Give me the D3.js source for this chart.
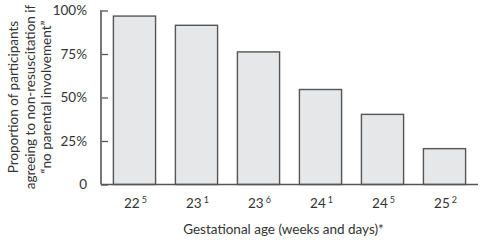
<!DOCTYPE html>
<html>
<head>
<meta charset="utf-8">
<script src="https://cdn.jsdelivr.net/npm/d3@7"></script>
<style>
  body { margin: 0; background: #fff; }
  text { font-family: Lato, "Open Sans", sans-serif; fill: #333; }
</style>
</head>
<body>
<svg id="chart"></svg>
<script>
const weeks = ['22', '23', '23', '24', '24', '25'];
const days = ['5', '1', '6', '1', '5', '2'];
const values = [96.8, 91.5, 76.2, 54.6, 40.3, 20.6];
const yTicks = [0, 25, 50, 75, 100];

const width = 480;
const height = 240;
const margin = { top: 10.5, right: 2, bottom: 55.5, left: 101 };

const svg = d3.select('#chart')
  .attr('width', width)
  .attr('height', height);

const x = d3.scaleBand()
  .domain(d3.range(values.length))
  .range([margin.left, width - margin.right])
  .paddingInner(0.32)
  .paddingOuter(0.2);

const y = d3.scaleLinear()
  .domain([0, 100])
  .range([height - margin.bottom, margin.top]);

// bars
svg.selectAll('rect.bar')
  .data(values)
  .enter()
  .append('rect')
  .attr('class', 'bar')
  .attr('x', (d, i) => x(i))
  .attr('y', (d) => y(d))
  .attr('width', x.bandwidth())
  .attr('height', (d) => y(0) - y(d))
  .attr('fill', '#e6e7e8')
  .attr('stroke', '#555')
  .style('stroke-width', '1.4px');

// y axis
const yAxis = svg.append('g')
  .attr('transform', `translate(${margin.left},0)`)
  .call(d3.axisRight(y)
    .tickValues(yTicks)
    .tickSize(7)
    .tickFormat((d) => (d === 0 ? '0' : d + '%')));

yAxis.select('.domain').remove();
yAxis.append('line')
  .attr('x1', 0).attr('x2', 0)
  .attr('y1', y(100) - 0.5).attr('y2', y(0))
  .attr('stroke', '#777')
  .style('stroke-width', '2px');
yAxis.selectAll('.tick line')
  .attr('stroke', '#555')
  .style('stroke-width', '1.3px');
yAxis.selectAll('.tick text')
  .attr('x', -14)
  .attr('text-anchor', 'end')
  .style('font-size', '13.5px')
  .style('fill', '#333');

// x baseline
svg.append('line')
  .attr('x1', margin.left).attr('x2', width - margin.right)
  .attr('y1', y(0)).attr('y2', y(0))
  .attr('stroke', '#555')
  .style('stroke-width', '1.5px');

// x labels with superscript days
const xl = svg.selectAll('text.xlab')
  .data(weeks)
  .enter()
  .append('text')
  .attr('class', 'xlab')
  .attr('x', (d, i) => x(i) + x.bandwidth() / 2 + 1)
  .attr('y', 208)
  .attr('text-anchor', 'middle')
  .style('font-size', '13.5px');
xl.append('tspan').text((d) => d);
xl.append('tspan')
  .attr('dx', 2)
  .attr('dy', -5)
  .style('font-size', '9px')
  .text((d, i) => days[i]);

// x title
svg.append('text')
  .attr('x', (margin.left + width - margin.right) / 2 - 6)
  .attr('y', 234)
  .attr('text-anchor', 'middle')
  .style('font-size', '13.5px')
  .text('Gestational age (weeks and days)*');

// y title
const yTitle = ['Proportion of participants', 'agreeing to non-resuscitation if', '\u201cno parental involvement\u201d'];
svg.append('g')
  .attr('transform', 'translate(0,97) rotate(-90)')
  .selectAll('text')
  .data(yTitle)
  .enter()
  .append('text')
  .attr('x', 0)
  .attr('y', (d, i) => 18 + i * 16.5)
  .attr('text-anchor', 'middle')
  .style('font-size', '13.5px')
  .text((d) => d);
</script>
</body>
</html>
